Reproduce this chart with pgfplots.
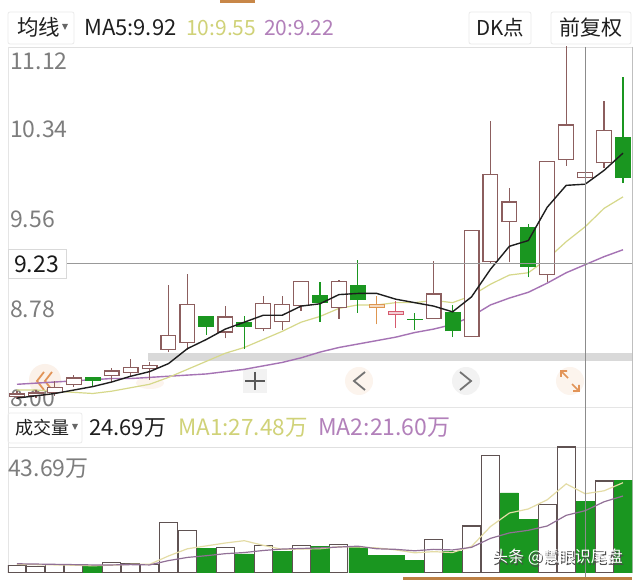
\documentclass[border=0pt]{standalone}
\usepackage{pgfplots}
\pgfplotsset{compat=1.18}
\usepackage{pgfplotstable}
\usepackage{fontspec}
\setmainfont{Noto Sans CJK SC}
\definecolor{upc}{RGB}{140,94,94}
\definecolor{orc}{RGB}{222,150,80}
\definecolor{rdc}{RGB}{214,90,110}
\definecolor{dnc}{RGB}{26,150,32}
\definecolor{mafive}{RGB}{30,30,30}
\definecolor{maten}{RGB}{214,216,138}
\definecolor{matw}{RGB}{165,115,180}
\definecolor{lbl}{RGB}{125,125,125}
\definecolor{btn}{RGB}{226,148,88}
\definecolor{vmaone}{RGB}{228,220,165}
\definecolor{vmatwo}{RGB}{145,112,150}
\definecolor{volup}{RGB}{95,82,82}
\definecolor{hdrten}{RGB}{208,210,120}
\definecolor{hdrtw}{RGB}{178,128,186}

% candles: x, low, body bottom, body top, high
\pgfplotstableread{
x lo bot top hi
0 8.05 8.07 8.10 8.12
1 8.06 8.08 8.11 8.13
2 8.08 8.10 8.16 8.21
3 8.16 8.17 8.24 8.26
5 8.20 8.25 8.30 8.32
6 8.25 8.28 8.33 8.40
7 8.22 8.31 8.35 8.37
8 8.46 8.48 8.61 9.04
9 8.48 8.54 8.88 9.14
11 8.58 8.63 8.77 8.86
13 8.64 8.66 8.89 8.95
14 8.65 8.72 8.88 8.95
15 8.82 8.86 9.08 9.08
17 8.75 8.84 9.08 9.09
22 8.75 8.75 8.97 9.25
24 8.59 8.59 9.52 9.52
25 9.23 9.24 10.01 10.47
26 9.24 9.59 9.77 9.89
28 9.07 9.13 10.12 10.12
29 10.08 10.13 10.44 11.12
30 9.81 9.97 10.03 10.25
31 10.06 10.10 10.39 10.64
}\upcandles

\pgfplotstableread{
x lo bot top hi
19 8.70 8.84 8.88 8.95
}\orcandles

\pgfplotstableread{
x lo bot top hi
20 8.67 8.78 8.82 8.90
}\rdcandles

\pgfplotstableread{
x lo bot top hi
4 8.16 8.21 8.24 8.24
10 8.61 8.68 8.77 8.77
12 8.49 8.68 8.72 8.77
16 8.72 8.89 8.96 9.07
18 8.80 8.91 9.04 9.26
21 8.65 8.74 8.75 8.80
23 8.59 8.64 8.81 8.87
27 9.11 9.20 9.55 9.57
32 9.93 9.97 10.33 10.85
}\dncandles

\pgfplotstableread{
x ma5 ma10 ma20
0 8.06 8.13 8.18
1 8.08 8.13 8.19
2 8.10 8.12 8.20
3 8.13 8.11 8.21
4 8.16 8.10 8.22
5 8.20 8.12 8.23
6 8.25 8.15 8.23
7 8.29 8.18 8.24
8 8.36 8.24 8.25
9 8.49 8.31 8.26
10 8.57 8.38 8.27
11 8.66 8.45 8.29
12 8.72 8.50 8.31
13 8.78 8.57 8.34
14 8.78 8.64 8.37
15 8.86 8.72 8.41
16 8.88 8.77 8.46
17 8.96 8.84 8.50
18 8.97 8.87 8.53
19 8.97 8.87 8.56
20 8.92 8.89 8.59
21 8.89 8.89 8.63
22 8.86 8.91 8.66
23 8.81 8.89 8.70
24 8.94 8.95 8.77
25 9.18 9.05 8.87
26 9.38 9.13 8.93
27 9.43 9.15 8.98
28 9.72 9.27 9.06
29 9.91 9.42 9.15
30 9.92 9.55 9.22
31 10.04 9.71 9.29
32 10.19 9.81 9.35
}\malines

\pgfplotstableread{
x vol
0 2.5
1 2.2
2 2.8
3 2.8
5 3.6
6 3.4
7 2.8
8 17.4
9 14.6
11 8.8
13 9.5
15 9.4
17 10.0
22 11.7
24 16.3
25 40.6
28 23.8
29 43.69
31 31.9
}\volupt

\pgfplotstableread{
x vol
4 2.2
10 8.6
12 6.6
14 7.4
16 9.1
18 8.9
19 6.0
20 6.0
21 4.3
23 7.6
26 27.8
27 18.6
30 24.69
32 32.2
}\voldnt

\pgfplotstableread{
x m1 m2
0 3.0 3.2
1 2.9 3.1
2 2.8 3.0
3 2.7 2.9
4 2.5 2.8
5 2.7 2.8
6 3.0 2.9
7 3.0 2.8
8 5.9 4.3
9 8.4 5.4
10 9.4 6.0
11 10.4 6.7
12 11.2 7.1
13 9.6 7.8
14 8.2 8.3
15 8.3 8.5
16 8.4 8.7
17 9.1 9.0
18 9.0 9.3
19 8.7 8.4
20 8.0 8.2
21 7.0 7.7
22 7.4 8.2
23 7.1 8.0
24 9.2 8.9
25 16.1 12.0
26 20.8 13.9
27 22.2 14.8
28 25.4 16.3
29 30.9 20.0
30 27.48 21.60
31 28.5 24.7
32 31.3 26.7
}\volma

\pgfplotsset{
  panel/.style={scale only axis, width=624pt, xmin=-0.475, xmax=32.475,
    hide axis, anchor=south west},
  % vertical segment drawn as an error bar: #1 colour, #2 width
  seg/.style 2 args={draw=none, mark=none, mark size=0pt, forget plot,
    error bars/.cd, y dir=plus, y explicit, error mark=none,
    error bar style={draw=#1, line width=#2}},
}
% wick, body, and (for hollow candles) inner fill of one candle table
\newcommand{\wicks}[2]{\addplot[seg={#2}{1.2pt}] table[x=x, y=lo, y error expr={\thisrow{hi}-\thisrow{lo}}] {#1};}
\newcommand{\bodies}[2]{\addplot[seg={#2}{16pt}] table[x=x, y=bot, y error expr={\thisrow{top}-\thisrow{bot}}] {#1};}
\newcommand{\hollow}[2]{\addplot[seg={#2}{13.6pt}] table[x=x, y expr={\thisrow{bot}+0.0104}, y error expr={max(\thisrow{top}-\thisrow{bot}-0.0208,0)}] {#1};}

\begin{document}
\begin{tikzpicture}
\path[use as bounding box] (0,0) rectangle (640pt,580pt);
\fill[white] (0,0) rectangle (640pt,580pt);
\begin{scope}[x=1pt,y=-1pt,yshift=580pt]
  % top orange sliver
  \fill[orc!90!black] (220,0) rectangle (255,3);
  % header boxes
  \draw[black!8, line width=0.8pt, rounded corners=2pt] (8,12) rectangle (74,44);
  \draw[black!8, line width=0.8pt, rounded corners=2pt] (469,12) rectangle (531,44);
  \draw[black!8, line width=0.8pt, rounded corners=2pt] (551,12) rectangle (631,44);
  \node[anchor=base west, inner sep=0, font=\fontsize{21.5}{23}\selectfont, text=black!88] at (17,36) {均线};
  \fill[black!60] (62,24) -- (68,24) -- (65,30) -- cycle;
  \node[anchor=base west, inner sep=0, font=\fontsize{22}{24}\selectfont, text=black!88] at (84,36) {MA5:9.92};
  \node[anchor=base west, inner sep=0, font=\fontsize{21}{23}\selectfont, text=hdrten] at (186,36) {10:9.55};
  \node[anchor=base west, inner sep=0, font=\fontsize{21}{23}\selectfont, text=hdrtw] at (264,36) {20:9.22};
  \node[anchor=base west, inner sep=0, font=\fontsize{20.5}{22}\selectfont, text=black!88] at (476,36) {DK点};
  \node[anchor=base west, inner sep=0, font=\fontsize{21}{23}\selectfont, text=black!88] at (559,36) {前复权};
  % frames
  \draw[black!12, line width=0.8pt] (8,47) -- (632,47);
  \draw[black!10, line width=0.8pt] (8,47) -- (8,573);
  \draw[black!25, line width=0.8pt] (632,47) -- (632,573);
  \draw[black!10, line width=0.8pt] (8,407) -- (632,407);
  \draw[black!12, line width=0.8pt] (8,447) -- (632,447);
  % grey band
  \fill[black!15] (148,353) rectangle (632,361);
  % price labels
  \foreach \yy/\tt in {70/11.12,138/10.34,228/9.56,318/8.78,407/8.00}
    \node[anchor=base west, inner sep=0, font=\fontsize{23}{25}\selectfont, text=lbl] at (10,\yy) {\tt};
  % button glows
  \fill[btn, opacity=0.13] (45,380) circle (16);
  \fill[btn, opacity=0.10] (150,383) ellipse (14 and 6);
  \fill[black, opacity=0.05] (243,369) rectangle (267,393);
  \fill[btn, opacity=0.10] (359,381) circle (14);
  \fill[black, opacity=0.05] (466,381) circle (14);
  \fill[btn, opacity=0.10] (570,381) circle (14);
  % buttons
  \draw[btn, line width=1.8pt] (44,372) -- (37,381) -- (44,390);
  \draw[btn, line width=1.8pt] (52,372) -- (45,381) -- (52,390);
  \draw[black!65, line width=1.6pt] (245,381) -- (265,381) (255,372) -- (255,390);
  \draw[black!55, line width=1.8pt] (365,372) -- (354,381) -- (365,390);
  \draw[black!55, line width=1.8pt] (460,372) -- (471,381) -- (460,390);
  \draw[btn, line width=1.7pt] (568,378) -- (561,371) (561,377) -- (561,371) -- (567,371);
  \draw[btn, line width=1.7pt] (572,384) -- (579,391) (579,385) -- (579,391) -- (573,391);
  % volume header
  \draw[black!8, line width=0.8pt, rounded corners=2pt] (8,413) rectangle (82,443);
  \node[anchor=base west, inner sep=0, font=\fontsize{18}{20}\selectfont, text=black!88] at (15,435) {成交量};
  \fill[black!60] (72,424) -- (78,424) -- (75,430) -- cycle;
  \node[anchor=base west, inner sep=0, font=\fontsize{22}{24}\selectfont, text=black!88] at (89,436) {24.69万};
  \node[anchor=base west, inner sep=0, font=\fontsize{22.5}{24}\selectfont, text=hdrten] at (178,436) {MA1:27.48万};
  \node[anchor=base west, inner sep=0, font=\fontsize{23}{25}\selectfont, text=hdrtw] at (318,436) {MA2:21.60万};
  \node[anchor=base west, inner sep=0, font=\fontsize{23}{25}\selectfont, text=lbl] at (8,477) {43.69万};
\end{scope}

% ---------- price panel ----------
\begin{axis}[panel, at={(8pt,175pt)}, height=358.8pt, ymin=8, ymax=11.12]
  \addplot[matw, line width=1.4pt] table[x=x, y=ma20] {\malines};
  \addplot[maten, line width=1.2pt] table[x=x, y=ma10] {\malines};
  \wicks{\upcandles}{upc}
  \wicks{\orcandles}{orc}
  \wicks{\rdcandles}{rdc}
  \wicks{\dncandles}{dnc}
  \bodies{\upcandles}{upc}
  \hollow{\upcandles}{white}
  \bodies{\orcandles}{orc}
  \hollow{\orcandles}{orc!35}
  \bodies{\rdcandles}{rdc}
  \hollow{\rdcandles}{rdc!30}
  \bodies{\dncandles}{dnc}
  \addplot[mafive, line width=1.4pt] table[x=x, y=ma5] {\malines};
\end{axis}

% ---------- volume panel ----------
\begin{axis}[panel, at={(8pt,7pt)}, height=126pt, ymin=0, ymax=43.69]
  \addplot[ybar, bar width=0.95, bar shift=0pt, draw=volup, fill=white, line width=1.1pt] table[x=x, y=vol] {\volupt};
  \addplot[ybar, bar width=0.95, bar shift=0pt, draw=dnc, fill=dnc, line width=0.6pt] table[x=x, y=vol] {\voldnt};
  \addplot[vmaone, line width=1.2pt] table[x=x, y=m1] {\volma};
  \addplot[vmatwo, line width=1.2pt] table[x=x, y=m2] {\volma};
\end{axis}

\begin{scope}[x=1pt,y=-1pt,yshift=580pt]
  % crosshair
  \draw[black!45, line width=0.9pt] (585,47) -- (585,580);
  \draw[black!40, line width=0.9pt] (66,263) -- (632,263);
  \draw[black!15, fill=white, line width=0.8pt] (8,249) rectangle (66,278);
  \node[anchor=base west, inner sep=0, font=\fontsize{23}{25}\selectfont, text=black!90] at (14,273) {9.23};
  % bottom orange strip
  \fill[orc!85!black] (403,577) rectangle (632,580);
  % watermark: white text with a dark shadow
  \node[anchor=base west, inner sep=0, font=\fontsize{16}{18}\selectfont, text=black!70] at (493.2,564.2) {头条 @慧眼识尾盘};
  \node[anchor=base west, inner sep=0, font=\fontsize{16}{18}\selectfont, text=white] at (492,563) {头条 @慧眼识尾盘};
\end{scope}
\end{tikzpicture}
\end{document}
